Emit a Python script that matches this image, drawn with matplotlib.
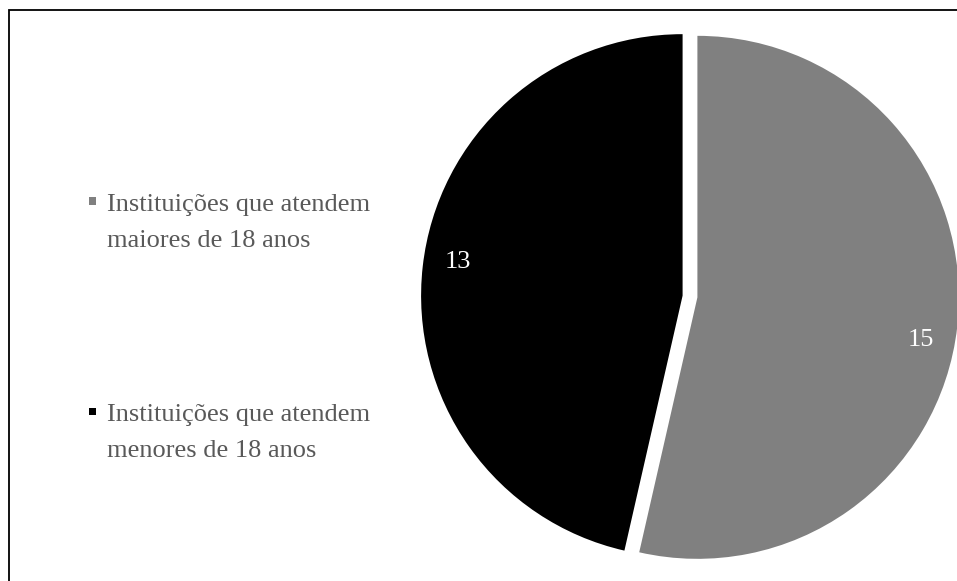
import numpy as np
import matplotlib
matplotlib.use("Agg")
import matplotlib.pyplot as plt
from matplotlib.patches import Rectangle

plt.rcParams["font.family"] = ["Liberation Serif", "DejaVu Serif"]

# Number of institutions by age group served
categories = ["Instituições que atendem\nmaiores de 18 anos",
              "Instituições que atendem\nmenores de 18 anos"]
counts = [15, 13]
colors = ["#808080", "#000000"]

W, H = 957, 581
fig = plt.figure(figsize=(W / 100, H / 100), dpi=100)

# pie centred at (690, 296) px, radius ~261 px
R = 261.5
cx, cy = 690, 296.5
side = 2.2 * R
ax = fig.add_axes([(cx - side / 2) / W, (H - cy - side / 2) / H, side / W, side / H])

explode = [0.0285, 0.0285]
wedges, texts, autotexts = ax.pie(
    counts, colors=colors, startangle=90, counterclock=False,
    explode=explode, radius=1.0,
    autopct=lambda p: f"{round(p * sum(counts) / 100):d}",
    pctdistance=0.87, textprops=dict(color="white", fontsize=19))

# nudge value labels a few degrees clockwise from the wedge bisector
label_shift = [-3.9, -2.6]
for w, t, d, ex in zip(wedges, autotexts, label_shift, explode):
    mid = np.deg2rad((w.theta1 + w.theta2) / 2)
    ox, oy = ex * np.cos(mid), ex * np.sin(mid)
    x, y = t.get_position()
    r = np.hypot(x - ox, y - oy)
    a = np.arctan2(y - oy, x - ox) + np.deg2rad(d)
    t.set_position((ox + r * np.cos(a), oy + r * np.sin(a) - 0.006))

ax.set_xlim(-1.1, 1.1)
ax.set_ylim(-1.1, 1.1)
ax.set_aspect("equal")
ax.axis("off")

# legend drawn by hand so the marker sits on the first text line
legend_rows = [201, 411]
for lab, col, y in zip(categories, colors, legend_rows):
    fig.patches.append(Rectangle((89 / W, 1 - (y + 3.5) / H), 7 / W, 7 / H,
                                 transform=fig.transFigure, facecolor=col,
                                 edgecolor="none"))
    fig.text(107 / W, 1 - (y - 7) / H, lab, ha="left", va="top",
             fontsize=19, color="#595959", linespacing=1.82)

# outer frame
fig.patches.append(Rectangle((8.5 / W, -0.01), 1.02, 1 - 9.5 / H + 0.01,
                             transform=fig.transFigure, fill=False,
                             edgecolor="black", linewidth=1.3))

fig.savefig("out.png", dpi=100)
